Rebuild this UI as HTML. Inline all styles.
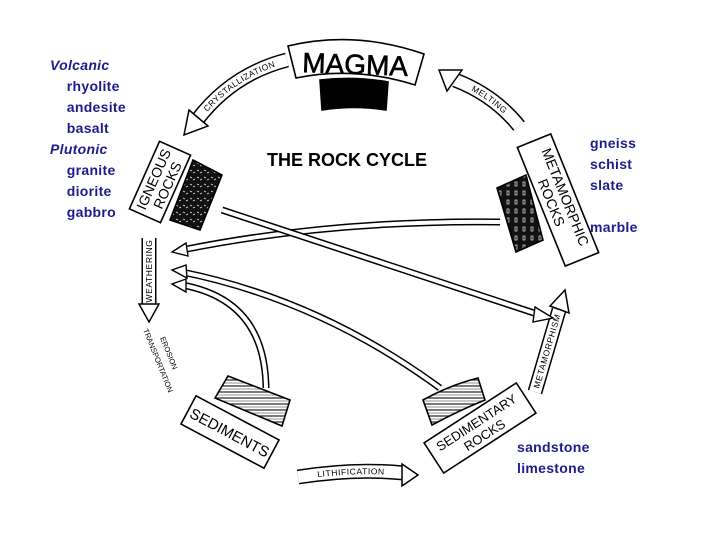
<!DOCTYPE html>
<html><head><style>
body{margin:0;background:#fff;}
.t{position:absolute;font-family:"Liberation Sans",sans-serif;font-size:14px;font-weight:bold;letter-spacing:0.3px;color:#1c1c8c;line-height:21px;}
</style></head><body>
<div style="position:relative;width:720px;height:540px;overflow:hidden">
<svg width="720" height="540" style="position:absolute;left:0;top:0" font-family="Liberation Sans, sans-serif">
<defs>
<pattern id="st" width="6" height="6" patternUnits="userSpaceOnUse"><rect width="6" height="6" fill="#fff"/><line x1="0" y1="2" x2="6" y2="2" stroke="#333" stroke-width="1.3"/><line x1="0" y1="5" x2="6" y2="5" stroke="#777" stroke-width="0.8"/></pattern>
<pattern id="ig" width="7" height="7" patternUnits="userSpaceOnUse"><rect width="7" height="7" fill="#111"/><path d="M1 2l2 1M4 5l2-1" stroke="#ddd" stroke-width="0.9"/></pattern>
<pattern id="mt" width="8" height="9" patternUnits="userSpaceOnUse"><rect width="8" height="9" fill="#111"/><rect x="3" y="2" width="2" height="4" fill="none" stroke="#ccc" stroke-width="0.8"/></pattern>
<path id="pc" d="M197 120 Q232 74 287 60"/>
<path id="pm" d="M455 80 Q494 95 519 126"/>
<path id="pw" d="M149 304 L149 238"/>
<path id="pl" d="M298 477 Q355 468 404 473"/>
<path id="pt" d="M535 392 L559 310"/>
</defs>
<g fill="none" stroke="#000" stroke-width="1.6">
<path d="M288 46 Q355 30 424 54 L415 85 Q355 66 296 78 Z" fill="#fff"/>
<text x="355" y="74" font-size="28" text-anchor="middle" fill="#000" stroke="#000" stroke-width="0.6" transform="rotate(2 355 70)">MAGMA</text>
<path d="M320 80 Q355 76 388 82 L386 110 Q355 105 322 110 Z" fill="#000"/>
<g stroke="#000" stroke-width="15"><use href="#pc"/><use href="#pm"/><use href="#pw"/><use href="#pl"/><use href="#pt"/></g>
<g stroke="#fff" stroke-width="12"><use href="#pc"/><use href="#pm"/><use href="#pw"/><use href="#pl"/><use href="#pt"/></g>
<g fill="#fff" stroke="#000" stroke-width="1.5">
<path d="M189 110 L208 126 L184 135 Z"/>
<path d="M462 70 L447 91 L439 70 Z"/>
<path d="M139 304 L159 304 L149 322 Z"/>
<path d="M402 464 L418 475 L402 486 Z"/>
<path d="M550 306 L569 313 L565 290 Z"/>
</g>
<g fill="#000" stroke="none" font-size="8.5" letter-spacing="0.6">
<text dy="3"><textPath href="#pc" startOffset="50%" text-anchor="middle">CRYSTALLIZATION</textPath></text>
<text dy="3"><textPath href="#pm" startOffset="50%" text-anchor="middle">MELTING</textPath></text>
<text dy="3"><textPath href="#pw" startOffset="50%" text-anchor="middle">WEATHERING</textPath></text>
<text dy="3"><textPath href="#pl" startOffset="50%" text-anchor="middle">LITHIFICATION</textPath></text>
<text dy="3"><textPath href="#pt" startOffset="50%" text-anchor="middle">METAMORPHISM</textPath></text>
</g>
<text x="143" y="330" font-size="7.5" fill="#000" stroke="none" transform="rotate(68 143 330)">TRANSPORTATION</text>
<text x="160" y="338" font-size="7.5" fill="#000" stroke="none" transform="rotate(68 160 338)">EROSION</text>
<g transform="rotate(-66 160 182)"><rect x="123" y="165" width="74" height="34" fill="#fff"/></g>
<text x="160" y="180" font-size="14" fill="#000" stroke="none" text-anchor="middle" transform="rotate(-66 160 182)">IGNEOUS</text>
<text x="160" y="195" font-size="14" fill="#000" stroke="none" text-anchor="middle" transform="rotate(-66 160 182)">ROCKS</text>
<path d="M193 160 L222 175 L200 230 L170 220 Z" fill="url(#ig)"/>
<g transform="rotate(68 558 200)"><rect x="494" y="182" width="128" height="36" fill="#fff"/></g>
<text x="558" y="197" font-size="14" fill="#000" stroke="none" text-anchor="middle" transform="rotate(68 558 200)">METAMORPHIC</text>
<text x="558" y="212" font-size="14" fill="#000" stroke="none" text-anchor="middle" transform="rotate(68 558 200)">ROCKS</text>
<path d="M497 188 L526 175 L543 240 L516 252 Z" fill="url(#mt)"/>
<g transform="rotate(28 230 432)"><rect x="183" y="416" width="94" height="32" fill="#fff"/></g>
<text x="230" y="438" font-size="15" fill="#000" stroke="none" text-anchor="middle" transform="rotate(28 230 432)">SEDIMENTS</text>
<path d="M228 376 L290 400 L282 426 L215 398 Z" fill="url(#st)"/>
<g transform="rotate(-33 480 428)"><rect x="425" y="410" width="110" height="36" fill="#fff"/></g>
<text x="480" y="426" font-size="13" fill="#000" stroke="none" text-anchor="middle" transform="rotate(-33 480 428)">SEDIMENTARY</text>
<text x="480" y="441" font-size="13" fill="#000" stroke="none" text-anchor="middle" transform="rotate(-33 480 428)">ROCKS</text>
<path d="M423 400 Q450 385 478 378 L485 400 Q460 410 432 425 Z" fill="url(#st)"/>
</g>
<g fill="none">
<path d="M500 222 Q330 220 182 250" stroke="#000" stroke-width="7"/>
<path d="M500 222 Q330 220 182 250" stroke="#fff" stroke-width="4"/>
<path d="M222 210 L540 315" stroke="#000" stroke-width="7"/>
<path d="M222 210 L540 315" stroke="#fff" stroke-width="4"/>
<path d="M440 388 Q320 300 182 272" stroke="#000" stroke-width="7"/>
<path d="M440 388 Q320 300 182 272" stroke="#fff" stroke-width="4"/>
<path d="M266 388 Q265 300 182 285" stroke="#000" stroke-width="7"/>
<path d="M266 388 Q265 300 182 285" stroke="#fff" stroke-width="4"/>
</g>
<g fill="#fff" stroke="#000" stroke-width="1.4">
<path d="M186 243 L172 252 L188 256 Z"/>
<path d="M186 265 L172 270 L187 278 Z"/>
<path d="M186 279 L172 284 L186 292 Z"/>
<path d="M535 307 L553 318 L533 322 Z"/>
</g>
<text x="267" y="166" font-size="18" font-weight="bold" fill="#000">THE ROCK CYCLE</text>
</svg>
<div class="t" style="left:50px;top:55px"><i>Volcanic</i><br>&nbsp;&nbsp;&nbsp;&nbsp;rhyolite<br>&nbsp;&nbsp;&nbsp;&nbsp;andesite<br>&nbsp;&nbsp;&nbsp;&nbsp;basalt<br><i>Plutonic</i><br>&nbsp;&nbsp;&nbsp;&nbsp;granite<br>&nbsp;&nbsp;&nbsp;&nbsp;diorite<br>&nbsp;&nbsp;&nbsp;&nbsp;gabbro</div>
<div class="t" style="left:590px;top:133px">gneiss<br>schist<br>slate<br><br>marble</div>
<div class="t" style="left:517px;top:437px">sandstone<br>limestone</div>
</div>
</body></html>
